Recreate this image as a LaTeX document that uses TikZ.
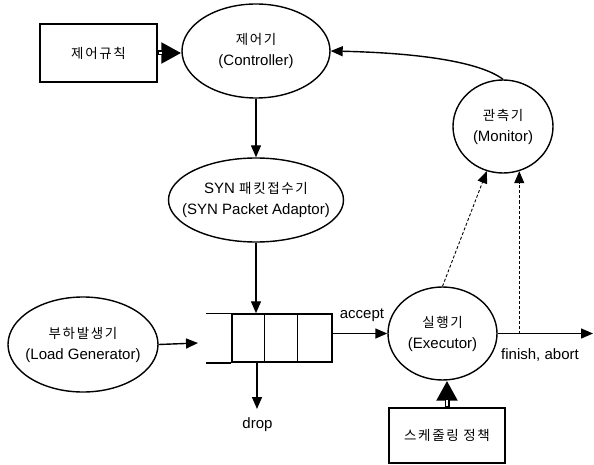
\documentclass[tikz,border=0pt]{standalone}
\usepackage{fontspec}
\setmainfont{Liberation Sans}
\newfontfamily\krfont[LetterSpace=12]{Noto Sans CJK KR}
\newcommand\krtext[1]{{\krfont\fontsize{13.5}{21}\selectfont #1}}
\usetikzlibrary{arrows.meta,shapes.geometric}

\begin{document}
\begin{tikzpicture}[x=1pt,y=-1pt,
  font=\fontsize{15}{21}\selectfont,
  ell/.style={draw, ellipse, line width=1.4pt, inner sep=0pt},
  box/.style={draw, rectangle, line width=1.5pt, inner sep=0pt},
  lbl/.style={inner sep=0pt, align=center},
  arr/.style={line width=1.4pt, -{Triangle[length=12pt,width=10pt]}},
  darr/.style={line width=0.9pt, dash pattern=on 3pt off 2pt, -{Triangle[length=12pt,width=10pt]}},
  bigarr/.style={line width=5pt, -{Triangle[length=20pt,width=20pt]}},
  gap/.style={white, line width=1.8pt, shorten >=19pt, shorten <=1.5pt},
  qline/.style={line width=1.5pt}
]
\useasboundingbox (0,0) rectangle (594,465);

\node[box, minimum width=117pt, minimum height=58pt] (rule) at (98.5,53) {\krtext{제어규칙}};
\node[ell, minimum width=148pt, minimum height=94pt,
  label={[lbl]center:\krtext{제어기}\\(Controller)}] (ctrl) at (256,51) {};
\node[ell, minimum width=175pt, minimum height=84pt,
  label={[lbl]center:SYN \krtext{패킷접수기}\\(SYN Packet Adaptor)}] (syn) at (256,200) {};
\node[ell, minimum width=150pt, minimum height=95pt,
  label={[lbl]center:\krtext{부하발생기}\\(Load Generator)}] (load) at (83,344.5) {};
\node[ell, minimum width=109pt, minimum height=93pt,
  label={[lbl]center:\krtext{실행기}\\(Executor)}] (exec) at (442.5,333.5) {};
\node[ell, minimum width=100pt, minimum height=93pt,
  label={[lbl]center:\krtext{관측기}\\(Monitor)}] (mon) at (503,126.5) {};
\node[box, minimum width=116pt, minimum height=55pt] (sched) at (447,435.5) {\krtext{스케줄링 정책}};

% queue
\node[box, minimum width=100pt, minimum height=48pt] (q) at (282,338) {};
\draw[qline] (q.north west) -- ++(-25,0);
\draw[qline] (q.south west) -- ++(-25,0);
\draw[qline] ([xshift=33pt]q.north west) -- ([xshift=33pt]q.south west);
\draw[qline] ([xshift=66pt]q.north west) -- ([xshift=66pt]q.south west);

% connectors
\draw[bigarr] (rule.east) -- (rule.east -| ctrl.west);
\draw[gap] (rule.east) -- (rule.east -| ctrl.west);
\draw[arr] (ctrl.south) -- (syn.north);
\draw[arr] (syn.south) -- (syn.south |- q.north);
\coordinate (qin) at (198,343);
\draw[arr] (load.east) -- (qin);
\coordinate (dropend) at (257,409);
\draw[arr] (dropend |- q.south) -- (dropend);
\node[inner sep=0pt] (droplbl) at (257.5,425) {drop};
\draw[arr] (q.east |- exec.west) -- (exec.west);
\node[inner sep=0pt] (acc) at (362,315) {accept};
\coordinate (outend) at (593,333.5);
\draw[arr] (exec.east) -- (outend);
\node[inner sep=0pt] (fin) at (540,355) {finish, abort};
\draw[bigarr] (sched.north) -- (sched.north |- exec.south);
\draw[gap] (sched.north) -- (sched.north |- exec.south);
\draw[darr] (exec.north) -- (mon.250);
\coordinate (tap) at (mon.290 |- exec.east);
\draw[darr] (tap) -- (mon.290);
\draw[arr] (mon.north) .. controls (480,62) and (420,53) .. (ctrl.east);
\end{tikzpicture}
\end{document}
